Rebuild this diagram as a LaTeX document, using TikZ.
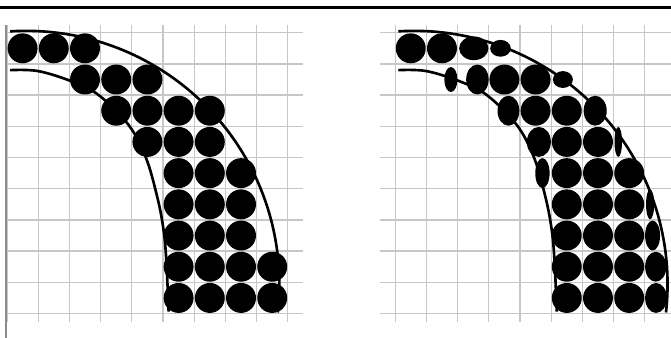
\documentclass[tikz,border=0pt]{standalone}
\usepackage{tikz}

\begin{document}
\begin{tikzpicture}[x=0.5cm, y=0.5cm,
	gridline/.style={black!22, line width=0.6pt},
	band/.style={black, line width=1.2pt},
	blob/.style={fill=black}]
	\clip[use as bounding box] (-0.224,1.048) rectangle (21.28,-9.753);
	\draw[black, line width=1.4pt] (-1,0.81) -- (22,0.81);
	\foreach \i in {0,...,9} {
		\draw[gridline] (\i,0.25) -- (\i,-9.27);
		\draw[gridline] (0,-\i) -- (9.5,-\i);
	}
	\draw[black!45, line width=0.9pt] (-0.03,0.25) -- (-0.03,-10);
	\draw[band] (0.61,-8.06) ++(93.6:8.12) arc[start angle=93.6, end angle=-6.4, radius=8.12];
	\draw[band] plot[smooth, tension=0.6] coordinates {(0.1,-1.2) (1.0,-1.23) (2.1,-1.57) (2.94,-2.0) (3.9,-2.96) (4.45,-4.0) (4.8,-5.2) (5.0,-6.2) (5.1,-7.2) (5.18,-8.94)};
	\foreach \r/\cols in {0/{0,1,2}, 1/{2,3,4}, 2/{3,4,5,6}, 3/{4,5,6}, 4/{5,6,7}, 5/{5,6,7}, 6/{5,6,7}, 7/{5,6,7,8}, 8/{5,6,7,8}}
		\foreach \c in \cols
			\fill[blob] (\c+0.5,-\r-0.5) circle (0.48);
	\begin{scope}[shift={(12.44,0)}]
		\foreach \i in {0,...,9} {
			\draw[gridline] (\i,0.25) -- (\i,-9.27);
			\draw[gridline] (-0.5,-\i) -- (10,-\i);
		}
		\draw[band] (0.61,-8.06) ++(93.6:8.12) arc[start angle=93.6, end angle=-6.4, radius=8.12];
		\draw[band] plot[smooth, tension=0.6] coordinates {(0.1,-1.2) (1.0,-1.23) (2.1,-1.57) (2.94,-2.0) (3.9,-2.96) (4.45,-4.0) (4.8,-5.2) (5.0,-6.2) (5.1,-7.2) (5.18,-8.94)};
		\foreach \r/\cols in {0/{0,1}, 1/{3,4}, 2/{4,5}, 3/{5,6}, 4/{5,6,7}, 5/{5,6,7}, 6/{5,6,7}, 7/{5,6,7}, 8/{5,6,7}}
			\foreach \c in \cols
				\fill[blob] (\c+0.5,-\r-0.5) circle (0.48);
		\foreach \r/\c/\dx/\rx/\ry in {0/2/0.02/0.47/0.38, 0/3/-0.125/0.33/0.27, 1/1/0.285/0.21/0.40, 1/2/0.135/0.36/0.48, 1/5/-0.125/0.32/0.27, 2/3/0.13/0.35/0.48, 2/6/-0.09/0.37/0.48, 3/4/0.105/0.385/0.48, 3/7/-0.35/0.12/0.48, 4/4/0.22/0.23/0.48, 5/8/-0.33/0.13/0.48, 6/8/-0.25/0.24/0.48, 7/8/-0.15/0.34/0.48, 8/8/-0.14/0.35/0.48}
			\fill[blob] (\c+0.5+\dx,-\r-0.5) ellipse[x radius=\rx, y radius=\ry];
	\end{scope}
\end{tikzpicture}
\end{document}
